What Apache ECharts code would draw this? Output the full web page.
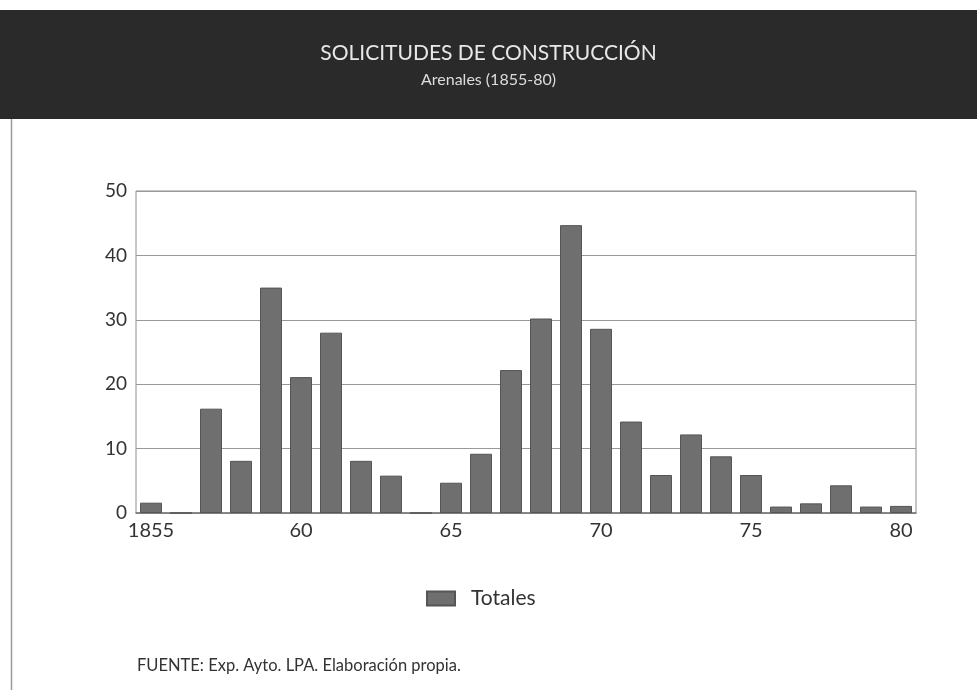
<!DOCTYPE html>
<html>
<head>
<meta charset="utf-8">
<script src="https://cdn.jsdelivr.net/npm/echarts@6/dist/echarts.min.js"></script>
<style>
html,body{margin:0;padding:0;background:#fff;}
#chart{width:977px;height:690px;}
</style>
</head>
<body>
<div id="chart"></div>
<script>
// Data
const years = ['1855','1856','1857','1858','1859','1860','1861','1862','1863','1864','1865','1866','1867','1868','1869','1870','1871','1872','1873','1874','1875','1876','1877','1878','1879','1880'];
const totales = [1.6, 0, 16.2, 8.1, 35, 21.1, 28, 8.1, 5.8, 0, 4.7, 9.2, 22.2, 30.2, 44.7, 28.6, 14.2, 5.9, 12.2, 8.8, 5.9, 1, 1.5, 4.3, 1, 1.1];
const tickLabels = {'1855':'1855','1860':'60','1865':'65','1870':'70','1875':'75','1880':'80'};
const titleText = 'SOLICITUDES DE CONSTRUCCIÓN';
const subtitleText = 'Arenales (1855-80)';
const sourceText = 'FUENTE: Exp. Ayto. LPA. Elaboración propia.';
const seriesName = 'Totales';

const FONT = 'Lato, "Noto Sans", sans-serif';
const chart = echarts.init(document.getElementById('chart'));
chart.setOption({
  animation: false,
  backgroundColor: '#ffffff',
  graphic: [
    { type: 'rect', z: -1, shape: { x: 0, y: 10, width: 977, height: 109 }, style: { fill: '#2a2a2a' } },
    { type: 'line', z: -1, shape: { x1: 11.5, y1: 119, x2: 11.5, y2: 690 }, style: { stroke: '#9a9a9a', lineWidth: 1.5 } }
  ],
  title: [
    { text: titleText, left: 'center', top: 38, textStyle: { color: '#e8e8e8', fontFamily: FONT, fontSize: 21, fontWeight: 'normal' } },
    { text: subtitleText, left: 'center', top: 67, textStyle: { color: '#dddddd', fontFamily: FONT, fontSize: 16, fontWeight: 'normal' } },
    { text: sourceText, left: 132, top: 652, textStyle: { color: '#333', fontFamily: FONT, fontSize: 16.5, fontWeight: 'normal' } }
  ],
  legend: {
    left: 421, top: 583,
    itemWidth: 28, itemHeight: 14,
    icon: 'rect',
    textStyle: { fontFamily: FONT, fontSize: 21, color: '#333', padding: [0, 0, 0, 11] },
    data: [seriesName]
  },
  grid: { left: 136, right: 61, top: 191, bottom: 177, show: true, borderColor: '#8c8c8c', borderWidth: 1 },
  xAxis: {
    type: 'category',
    data: years,
    boundaryGap: true,
    axisLine: { lineStyle: { color: '#777', width: 1.5 } },
    axisTick: { show: false },
    axisLabel: {
      interval: 0, margin: 8,
      fontFamily: FONT, fontSize: 20, color: '#333',
      formatter: v => tickLabels[v] || ''
    }
  },
  yAxis: {
    type: 'value', min: 0, max: 50, interval: 10,
    axisLine: { show: false },
    axisTick: { show: false },
    splitLine: { lineStyle: { color: '#999', width: 1 } },
    axisLabel: { fontFamily: FONT, fontSize: 19, color: '#333', margin: 9 }
  },
  series: [{
    name: seriesName,
    type: 'bar',
    data: totales,
    barWidth: 22,
    itemStyle: { color: '#6f6f6f', borderColor: '#555', borderWidth: 1 }
  }]
});
</script>
</body>
</html>
